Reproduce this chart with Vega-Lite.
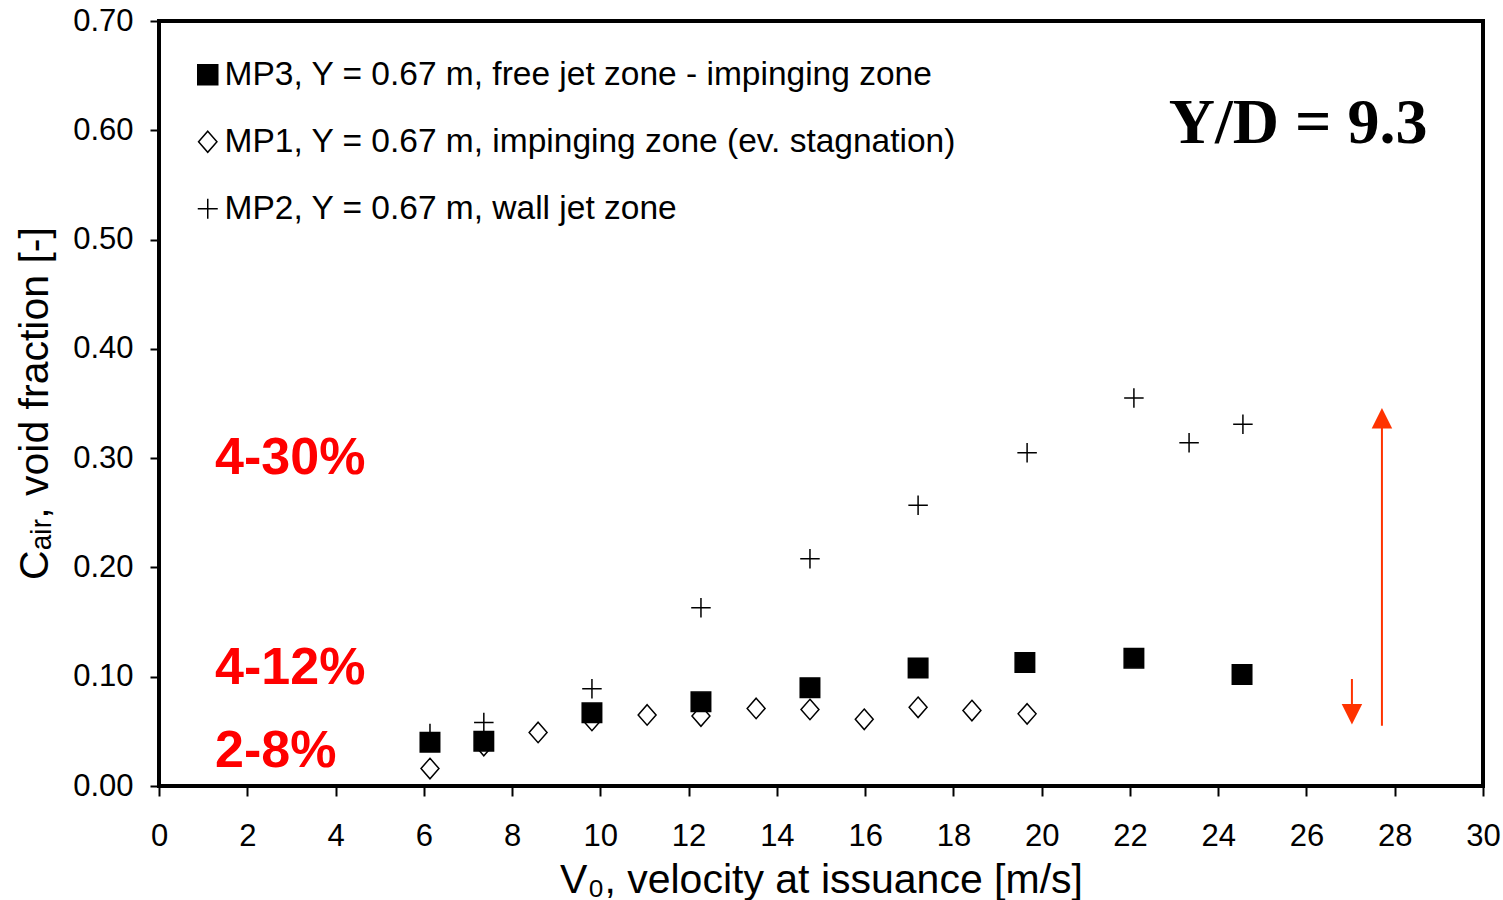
{
  "$schema": "https://vega.github.io/schema/vega-lite/v6.json",
  "width": 1324,
  "height": 765,
  "autosize": {"type": "none"},
  "padding": {"left": 159, "top": 21, "right": 20, "bottom": 114},
  "background": "white",
  "config": {
    "view": {"stroke": "black", "strokeWidth": 4},
    "font": "Liberation Sans",
    "axis": {
      "grid": false,
      "domain": false,
      "ticks": true,
      "tickColor": "black",
      "tickWidth": 2,
      "labelColor": "black",
      "labelFont": "Liberation Sans",
      "labelFontSize": 31,
      "labelFlush": false,
      "labelOverlap": false,
      "titleFont": "Liberation Sans",
      "titleFontSize": 41,
      "titleFontWeight": "normal",
      "titleColor": "black"
    },
    "legend": {
      "orient": "none",
      "legendX": 32,
      "legendY": 37,
      "padding": 0,
      "labelFont": "Liberation Sans",
      "labelFontSize": 33.5,
      "labelColor": "black",
      "labelOffset": 0,
      "labelLimit": 0,
      "symbolSize": 400,
      "symbolStrokeColor": "black",
      "symbolStrokeWidth": 1.5,
      "symbolOpacity": 1,
      "rowPadding": 32
    }
  },
  "datasets": {
    "points": [
      {"series": "MP2, Y = 0.67 m, wall jet zone", "v0": 6.14, "cair": 0.048},
      {"series": "MP2, Y = 0.67 m, wall jet zone", "v0": 7.36, "cair": 0.058},
      {"series": "MP2, Y = 0.67 m, wall jet zone", "v0": 9.81, "cair": 0.089},
      {"series": "MP2, Y = 0.67 m, wall jet zone", "v0": 12.28, "cair": 0.163},
      {"series": "MP2, Y = 0.67 m, wall jet zone", "v0": 14.75, "cair": 0.208},
      {"series": "MP2, Y = 0.67 m, wall jet zone", "v0": 17.2, "cair": 0.257},
      {"series": "MP2, Y = 0.67 m, wall jet zone", "v0": 19.67, "cair": 0.305},
      {"series": "MP2, Y = 0.67 m, wall jet zone", "v0": 22.09, "cair": 0.355},
      {"series": "MP2, Y = 0.67 m, wall jet zone", "v0": 23.34, "cair": 0.314},
      {"series": "MP2, Y = 0.67 m, wall jet zone", "v0": 24.56, "cair": 0.331},
      {"series": "MP1, Y = 0.67 m, impinging zone (ev. stagnation)", "v0": 6.14, "cair": 0.016},
      {"series": "MP1, Y = 0.67 m, impinging zone (ev. stagnation)", "v0": 7.36, "cair": 0.037},
      {"series": "MP1, Y = 0.67 m, impinging zone (ev. stagnation)", "v0": 8.59, "cair": 0.049},
      {"series": "MP1, Y = 0.67 m, impinging zone (ev. stagnation)", "v0": 9.81, "cair": 0.060},
      {"series": "MP1, Y = 0.67 m, impinging zone (ev. stagnation)", "v0": 11.06, "cair": 0.065},
      {"series": "MP1, Y = 0.67 m, impinging zone (ev. stagnation)", "v0": 12.28, "cair": 0.064},
      {"series": "MP1, Y = 0.67 m, impinging zone (ev. stagnation)", "v0": 13.53, "cair": 0.071},
      {"series": "MP1, Y = 0.67 m, impinging zone (ev. stagnation)", "v0": 14.75, "cair": 0.070},
      {"series": "MP1, Y = 0.67 m, impinging zone (ev. stagnation)", "v0": 15.98, "cair": 0.061},
      {"series": "MP1, Y = 0.67 m, impinging zone (ev. stagnation)", "v0": 17.2, "cair": 0.072},
      {"series": "MP1, Y = 0.67 m, impinging zone (ev. stagnation)", "v0": 18.42, "cair": 0.069},
      {"series": "MP1, Y = 0.67 m, impinging zone (ev. stagnation)", "v0": 19.67, "cair": 0.066},
      {"series": "MP3, Y = 0.67 m, free jet zone - impinging zone", "v0": 6.14, "cair": 0.040},
      {"series": "MP3, Y = 0.67 m, free jet zone - impinging zone", "v0": 7.36, "cair": 0.041},
      {"series": "MP3, Y = 0.67 m, free jet zone - impinging zone", "v0": 9.81, "cair": 0.067},
      {"series": "MP3, Y = 0.67 m, free jet zone - impinging zone", "v0": 12.28, "cair": 0.077},
      {"series": "MP3, Y = 0.67 m, free jet zone - impinging zone", "v0": 14.75, "cair": 0.090},
      {"series": "MP3, Y = 0.67 m, free jet zone - impinging zone", "v0": 17.2, "cair": 0.108},
      {"series": "MP3, Y = 0.67 m, free jet zone - impinging zone", "v0": 19.62, "cair": 0.113},
      {"series": "MP3, Y = 0.67 m, free jet zone - impinging zone", "v0": 22.09, "cair": 0.117},
      {"series": "MP3, Y = 0.67 m, free jet zone - impinging zone", "v0": 24.54, "cair": 0.102}
    ],
    "ranges": [
      {"v0": 1.27, "cair": 0.2858, "label": "4-30%"},
      {"v0": 1.27, "cair": 0.0937, "label": "4-12%"},
      {"v0": 1.27, "cair": 0.0178, "label": "2-8%"}
    ],
    "ratio": [
      {"v0": 25.81, "cair": 0.5883, "label": "Y/D = 9.3"}
    ],
    "shafts": [
      {"v0": 27.71, "from": 0.0552, "to": 0.3276},
      {"v0": 27.03, "from": 0.0979, "to": 0.0748}
    ],
    "headsUp": [
      {"v0": 27.71, "cair": 0.3364}
    ],
    "headsDown": [
      {"v0": 27.03, "cair": 0.0656}
    ]
  },
  "layer": [
    {
      "data": {"name": "points"},
      "mark": {"type": "point", "stroke": "black", "strokeWidth": 1.5, "opacity": 1, "size": 380},
      "encoding": {
        "x": {
          "field": "v0",
          "type": "quantitative",
          "scale": {"domain": [0, 30], "nice": false, "zero": false},
          "axis": {
            "values": [0, 2, 4, 6, 8, 10, 12, 14, 16, 18, 20, 22, 24, 26, 28, 30],
            "format": "d",
            "tickSize": 10,
            "labelPadding": 25,
            "title": "V₀, velocity at issuance [m/s]",
            "titleY": 106,
            "titleBaseline": "alphabetic"
          }
        },
        "y": {
          "field": "cair",
          "type": "quantitative",
          "scale": {"domain": [0, 0.7], "nice": false, "zero": false},
          "axis": {
            "values": [0, 0.1, 0.2, 0.3, 0.4, 0.5, 0.6, 0.7],
            "format": ".2f",
            "tickSize": 9,
            "labelPadding": 17,
            "title": "Cₐᵢᵣ, void fraction [-]",
            "titleAngle": 270,
            "titleX": -112,
            "titleY": 382,
            "titleAlign": "center",
            "titleBaseline": "alphabetic"
          }
        },
        "shape": {
          "field": "series",
          "type": "nominal",
          "title": null,
          "scale": {
            "domain": [
              "MP3, Y = 0.67 m, free jet zone - impinging zone",
              "MP1, Y = 0.67 m, impinging zone (ev. stagnation)",
              "MP2, Y = 0.67 m, wall jet zone"
            ],
            "range": ["square", "M0,-1.05L0.92,0L0,1.05L-0.92,0Z", "M-1,0L1,0M0,-1L0,1"]
          },
          "legend": {
            "encode": {
              "symbols": {
                "update": {
                  "stroke": {"value": "black"},
                  "strokeWidth": {"value": 1.5},
                  "opacity": {"value": 1}
                }
              }
            }
          }
        },
        "fill": {
          "field": "series",
          "type": "nominal",
          "title": null,
          "scale": {
            "domain": [
              "MP3, Y = 0.67 m, free jet zone - impinging zone",
              "MP1, Y = 0.67 m, impinging zone (ev. stagnation)",
              "MP2, Y = 0.67 m, wall jet zone"
            ],
            "range": ["black", "white", "transparent"]
          },
          "legend": {
            "encode": {
              "symbols": {
                "update": {
                  "stroke": {"value": "black"},
                  "strokeWidth": {"value": 1.5},
                  "opacity": {"value": 1}
                }
              }
            }
          }
        }
      }
    },
    {
      "data": {"name": "ranges"},
      "mark": {"type": "text", "color": "#FF0000", "font": "Liberation Sans", "fontWeight": "bold", "fontSize": 52, "align": "left", "baseline": "alphabetic"},
      "encoding": {
        "x": {"field": "v0", "type": "quantitative"},
        "y": {"field": "cair", "type": "quantitative"},
        "text": {"field": "label"}
      }
    },
    {
      "data": {"name": "ratio"},
      "mark": {"type": "text", "color": "black", "font": "Liberation Serif", "fontWeight": "bold", "fontSize": 64, "align": "center", "baseline": "alphabetic"},
      "encoding": {
        "x": {"field": "v0", "type": "quantitative"},
        "y": {"field": "cair", "type": "quantitative"},
        "text": {"field": "label"}
      }
    },
    {
      "data": {"name": "shafts"},
      "mark": {"type": "rule", "color": "#FF3300", "strokeWidth": 2},
      "encoding": {
        "x": {"field": "v0", "type": "quantitative"},
        "y": {"field": "from", "type": "quantitative"},
        "y2": {"field": "to"}
      }
    },
    {
      "data": {"name": "headsUp"},
      "mark": {"type": "point", "filled": true, "color": "#FF3300", "opacity": 1, "size": 420, "shape": "M0,-1L1,1L-1,1Z"},
      "encoding": {
        "x": {"field": "v0", "type": "quantitative"},
        "y": {"field": "cair", "type": "quantitative"}
      }
    },
    {
      "data": {"name": "headsDown"},
      "mark": {"type": "point", "filled": true, "color": "#FF3300", "opacity": 1, "size": 420, "shape": "M0,1L1,-1L-1,-1Z"},
      "encoding": {
        "x": {"field": "v0", "type": "quantitative"},
        "y": {"field": "cair", "type": "quantitative"}
      }
    }
  ]
}
